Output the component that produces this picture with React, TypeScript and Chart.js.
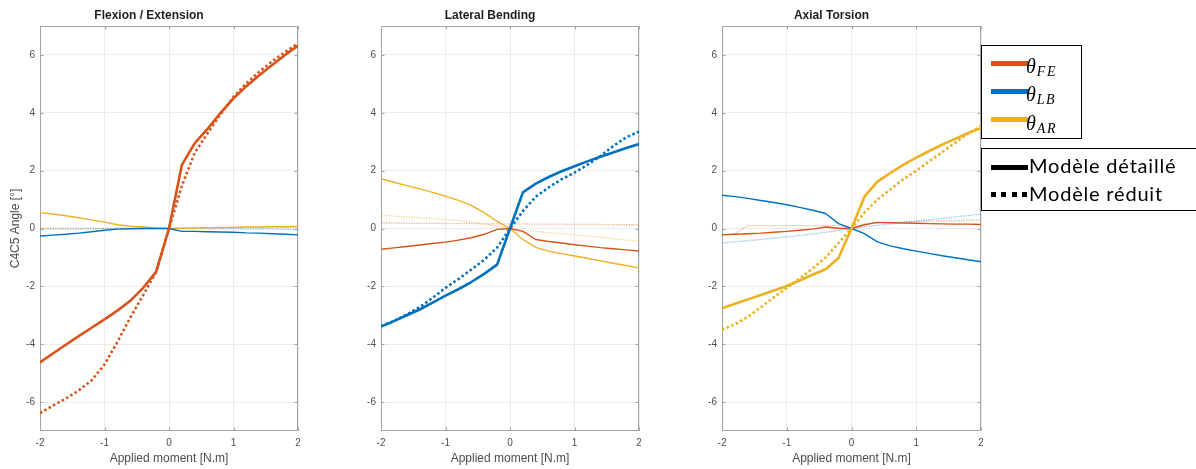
import React, { useEffect, useRef } from "react";
import { Chart, registerables } from "chart.js";

Chart.register(...registerables);

// ---------- data ----------
const X = [-2, -1.8, -1.6, -1.4, -1.2, -1, -0.8, -0.6, -0.4, -0.2, 0, 0.2, 0.4, 0.6, 0.8, 1, 1.2, 1.4, 1.6, 1.8, 2];
const xTicks = [-2, -1, 0, 1, 2];
const yTicks = [-6, -4, -2, 0, 2, 4, 6];

const panelTitles = ["Flexion / Extension", "Lateral Bending", "Axial Torsion"];
const xAxisTitle = "Applied moment [N.m]";
const yAxisTitle = "C4C5 Angle [°]";

// Panel 1 : Flexion / Extension
const feFEdet = [-4.63, -4.32, -4.02, -3.72, -3.43, -3.14, -2.84, -2.5, -2.05, -1.5, 0, 2.2, 2.95, 3.45, 4.0, 4.5, 4.92, 5.3, 5.65, 6.0, 6.32];
const feFEred = [-6.38, -6.12, -5.88, -5.6, -5.25, -4.7, -3.92, -3.08, -2.3, -1.5, 0, 1.48, 2.62, 3.3, 3.95, 4.55, 5.02, 5.42, 5.78, 6.1, 6.4];
const feLBdet = [-0.26, -0.23, -0.2, -0.16, -0.11, -0.06, -0.02, -0.01, 0, 0, 0, -0.1, -0.1, -0.11, -0.12, -0.13, -0.15, -0.16, -0.18, -0.2, -0.22];
const feARdet = [0.55, 0.5, 0.44, 0.37, 0.3, 0.22, 0.13, 0.08, 0.05, 0.02, 0, 0.01, 0.02, 0.03, 0.03, 0.04, 0.05, 0.05, 0.06, 0.06, 0.07];
const feLBred = [-0.01, -0.01, -0.01, -0.01, -0.01, 0, 0, 0, 0, 0, 0, 0, 0, -0.01, -0.01, -0.01, -0.01, -0.01, -0.02, -0.02, -0.02];
const feARred = [0.01, 0.01, 0.01, 0.01, 0.01, 0.01, 0.01, 0.01, 0.01, 0, 0, 0.01, 0.02, 0.02, 0.03, 0.03, 0.04, 0.04, 0.05, 0.05, 0.05];

// Panel 2 : Lateral Bending
const lbLBdet = [-3.39, -3.2, -3.0, -2.8, -2.56, -2.32, -2.1, -1.85, -1.57, -1.25, 0, 1.25, 1.55, 1.78, 1.98, 2.15, 2.32, 2.48, 2.63, 2.78, 2.92];
const lbLBred = [-3.37, -3.2, -2.97, -2.72, -2.4, -2.05, -1.75, -1.42, -1.08, -0.66, 0, 0.6, 1.1, 1.42, 1.7, 1.93, 2.2, 2.5, 2.85, 3.15, 3.35];
const lbFEdet = [-0.72, -0.67, -0.62, -0.57, -0.52, -0.47, -0.4, -0.32, -0.2, -0.03, 0, -0.1, -0.38, -0.45, -0.5, -0.56, -0.61, -0.66, -0.7, -0.74, -0.78];
const lbARdet = [1.72, 1.6, 1.48, 1.37, 1.25, 1.12, 0.97, 0.8, 0.55, 0.25, 0, -0.38, -0.65, -0.78, -0.87, -0.95, -1.03, -1.12, -1.2, -1.28, -1.36];
const lbFEred = [0.19, 0.19, 0.18, 0.18, 0.18, 0.17, 0.17, 0.17, 0.16, 0.16, 0.16, 0.16, 0.15, 0.15, 0.15, 0.14, 0.14, 0.14, 0.13, 0.13, 0.13];
const lbARred = [0.46, 0.43, 0.4, 0.37, 0.34, 0.31, 0.27, 0.22, 0.16, 0.08, 0, -0.06, -0.1, -0.14, -0.18, -0.22, -0.26, -0.3, -0.35, -0.4, -0.44];

// Panel 3 : Axial Torsion
const arARdet = [-2.76, -2.6, -2.45, -2.3, -2.14, -1.99, -1.8, -1.6, -1.41, -1.02, 0, 1.1, 1.62, 1.92, 2.2, 2.45, 2.68, 2.9, 3.1, 3.3, 3.47];
const arARred = [-3.5, -3.31, -3.05, -2.72, -2.38, -2.05, -1.73, -1.38, -1.0, -0.5, 0, 0.55, 1.0, 1.35, 1.7, 2.0, 2.32, 2.64, 2.96, 3.28, 3.55];
const arLBdet = [1.15, 1.1, 1.04, 0.97, 0.9, 0.82, 0.73, 0.63, 0.52, 0.17, 0, -0.18, -0.46, -0.6, -0.7, -0.78, -0.86, -0.94, -1.01, -1.08, -1.15];
const arFEdet = [-0.22, -0.2, -0.18, -0.16, -0.13, -0.1, -0.06, -0.02, 0.05, 0.01, 0, 0.13, 0.21, 0.2, 0.19, 0.18, 0.17, 0.16, 0.15, 0.15, 0.14];
const arLBred = [-0.5, -0.46, -0.42, -0.38, -0.33, -0.29, -0.24, -0.19, -0.13, -0.07, 0, 0.06, 0.11, 0.16, 0.21, 0.26, 0.3, 0.35, 0.4, 0.45, 0.5];
const arFEred = [-0.22, -0.18, 0.1, 0.1, 0.1, 0.1, 0.1, 0.1, 0.1, 0.1, 0, 0.15, 0.2, 0.21, 0.22, 0.24, 0.25, 0.26, 0.27, 0.28, 0.3];

// ---------- style ----------
const ORANGE = "#D95319";
const BLUE = "#0072BD";
const YELLOW = "#EDB120";
const FADE: Record<string, string> = {
  [ORANGE]: "rgba(217,83,25,0.4)",
  [BLUE]: "rgba(0,114,189,0.4)",
  [YELLOW]: "rgba(237,177,32,0.45)",
};
const FONT = "'Liberation Sans', Arial, sans-serif";

type Kind = "main" | "mainDot" | "thin" | "faint";

function ds(values: number[], color: string, kind: Kind) {
  const base: any = {
    data: values.map((v, i) => ({ x: X[i], y: v })),
    pointRadius: 0,
    tension: 0,
    fill: false,
    borderCapStyle: "butt",
    borderJoinStyle: "round",
  };
  if (kind === "main") return { ...base, borderColor: color, borderWidth: 2.6 };
  if (kind === "mainDot") return { ...base, borderColor: color, borderWidth: 2.6, borderDash: [2.5, 2.5] };
  if (kind === "thin") return { ...base, borderColor: color, borderWidth: 1.4 };
  return { ...base, borderColor: FADE[color], borderWidth: 1.3, borderDash: [1.5, 1] };
}

const panels = [
  {
    title: panelTitles[0],
    left: 0,
    width: 300,
    yTitle: true,
    datasets: [
      ds(feFEdet, ORANGE, "main"),
      ds(feFEred, ORANGE, "mainDot"),
      ds(feLBdet, BLUE, "thin"),
      ds(feARdet, YELLOW, "thin"),
      ds(feLBred, BLUE, "faint"),
      ds(feARred, YELLOW, "faint"),
    ],
  },
  {
    title: panelTitles[1],
    left: 341,
    width: 300,
    yTitle: false,
    datasets: [
      ds(lbLBdet, BLUE, "main"),
      ds(lbLBred, BLUE, "mainDot"),
      ds(lbFEdet, ORANGE, "thin"),
      ds(lbARdet, YELLOW, "thin"),
      ds(lbFEred, ORANGE, "faint"),
      ds(lbARred, YELLOW, "faint"),
    ],
  },
  {
    title: panelTitles[2],
    left: 682,
    width: 301,
    yTitle: false,
    datasets: [
      ds(arARdet, YELLOW, "main"),
      ds(arARred, YELLOW, "mainDot"),
      ds(arLBdet, BLUE, "thin"),
      ds(arFEdet, ORANGE, "thin"),
      ds(arLBred, BLUE, "faint"),
      ds(arFEred, ORANGE, "faint"),
    ],
  },
];

const framePlugin = {
  id: "matlabFrame",
  beforeDatasetsDraw(chart: any) {
    const { ctx, chartArea: a, scales } = chart;
    ctx.save();
    ctx.strokeStyle = "#a3a3a3";
    ctx.lineWidth = 1;
    const l = Math.round(a.left) + 0.5;
    const r = Math.round(a.right) - 0.5;
    const t = Math.round(a.top) + 0.5;
    const b = Math.round(a.bottom) - 0.5;
    ctx.strokeRect(l, t, r - l, b - t);
    ctx.beginPath();
    xTicks.forEach((v) => {
      const p = Math.round(scales.x.getPixelForValue(v)) + 0.5;
      ctx.moveTo(p, b);
      ctx.lineTo(p, b - 3);
      ctx.moveTo(p, t);
      ctx.lineTo(p, t + 3);
    });
    yTicks.forEach((v) => {
      const p = Math.round(scales.y.getPixelForValue(v)) + 0.5;
      ctx.moveTo(l, p);
      ctx.lineTo(l + 3, p);
      ctx.moveTo(r, p);
      ctx.lineTo(r - 3, p);
    });
    ctx.stroke();
    ctx.restore();
  },
};

function Panel(props: any) {
  const ref = useRef<HTMLCanvasElement | null>(null);
  const { title, datasets, yTitle, left, width } = props;
  useEffect(() => {
    if (!ref.current) return;
    const chart = new Chart(ref.current, {
      type: "line",
      data: { datasets },
      plugins: [framePlugin],
      options: {
        animation: false,
        responsive: false,
        devicePixelRatio: 1,
        layout: { padding: { left: 0, right: 2, top: 0, bottom: 0 } },
        plugins: {
          legend: { display: false },
          tooltip: { enabled: false },
          title: {
            display: true,
            text: title,
            color: "#1f1f1f",
            font: { family: FONT, size: 12, weight: "bold", lineHeight: "14px" } as any,
            padding: { top: 9, bottom: 3 },
          },
        },
        scales: {
          x: {
            type: "linear",
            min: -2,
            max: 2,
            afterBuildTicks: (s: any) => {
              s.ticks = xTicks.map((v) => ({ value: v }));
            },
            afterFit: (s: any) => {
              s.height = 38;
              s.paddingLeft = 0;
              s.paddingRight = 0;
            },
            grid: { color: "#ebebeb", drawTicks: false },
            border: { display: false },
            ticks: {
              color: "#4d4d4d",
              font: { family: FONT, size: 10 },
              padding: 6,
              maxRotation: 0,
              autoSkip: false,
              callback: (v: any) => String(v),
            },
            title: {
              display: true,
              text: xAxisTitle,
              color: "#4d4d4d",
              font: { family: FONT, size: 12 },
              padding: { top: 0, bottom: 3 },
            },
          },
          y: {
            type: "linear",
            min: -7,
            max: 7,
            afterBuildTicks: (s: any) => {
              s.ticks = yTicks.map((v) => ({ value: v }));
            },
            afterFit: (s: any) => {
              s.width = 40;
              s.paddingTop = 0;
              s.paddingBottom = 0;
            },
            grid: { color: "#ebebeb", drawTicks: false },
            border: { display: false },
            ticks: {
              color: "#4d4d4d",
              font: { family: FONT, size: 10 },
              padding: 5,
              autoSkip: false,
              callback: (v: any) => String(v),
            },
            title: {
              display: yTitle,
              text: yAxisTitle,
              color: "#4d4d4d",
              font: { family: FONT, size: 12 },
              padding: { top: 8, bottom: 0 },
            },
          },
        },
      } as any,
    });
    return () => chart.destroy();
  }, []);
  return (
    <div style={{ position: "absolute", left, top: 0, width, height: 469 }}>
      <canvas ref={ref} width={width} height={469} style={{ width, height: 469, display: "block" }} />
    </div>
  );
}

const legendSeries = [
  { sub: "FE", color: ORANGE, lineY: 63, top: 56 },
  { sub: "LB", color: BLUE, lineY: 91, top: 84 },
  { sub: "AR", color: YELLOW, lineY: 119, top: 112.5 },
];
const legendModels = [
  { label: "Modèle détaillé", dotted: false, lineY: 167, top: 155 },
  { label: "Modèle réduit", dotted: true, lineY: 194, top: 183 },
];

function Legend() {
  return (
    <>
      <div
        style={{
          position: "absolute",
          left: 981,
          top: 45,
          width: 101,
          height: 94,
          border: "1.5px solid #000",
          boxSizing: "border-box",
          background: "#fff",
        }}
      />
      <div
        style={{
          position: "absolute",
          left: 981,
          top: 148,
          width: 230,
          height: 63,
          border: "1.5px solid #000",
          boxSizing: "border-box",
          background: "#fff",
        }}
      />
      {legendSeries.map((s) => (
        <React.Fragment key={s.sub}>
          <div
            style={{
              position: "absolute",
              left: 991,
              top: s.lineY - 2.5,
              width: 37,
              height: 5,
              background: s.color,
            }}
          />
          <div
            style={{
              position: "absolute",
              left: 1026,
              top: s.top,
              fontFamily: "'Liberation Serif', 'Times New Roman', serif",
              fontStyle: "italic",
              fontSize: 20,
              lineHeight: "20px",
              color: "#000",
              whiteSpace: "nowrap",
            }}
          >
            θ
            <span style={{ fontSize: 14, position: "relative", top: 3, letterSpacing: 1.5, marginLeft: 1 }}>{s.sub}</span>
          </div>
        </React.Fragment>
      ))}
      {legendModels.map((m) => (
        <React.Fragment key={m.label}>
          <div
            style={{
              position: "absolute",
              left: 991,
              top: m.lineY - 2.5,
              width: 37,
              height: 5,
              background: m.dotted
                ? "repeating-linear-gradient(to right, #000 0px, #000 5px, transparent 5px, transparent 10.5px)"
                : "#000",
            }}
          />
          <div
            style={{
              position: "absolute",
              left: 1029,
              top: m.top,
              fontFamily: "Lato, 'Open Sans', sans-serif",
              fontSize: 20,
              lineHeight: "20px",
              letterSpacing: 0.8,
              color: "#000",
              whiteSpace: "nowrap",
            }}
          >
            {m.label}
          </div>
        </React.Fragment>
      ))}
    </>
  );
}

export default function App() {
  return (
    <div
      style={{
        position: "fixed",
        left: 0,
        top: 0,
        width: 1196,
        height: 469,
        background: "#fff",
        overflow: "hidden",
      }}
    >
      {panels.map((p) => (
        <Panel key={p.title} {...p} />
      ))}
      <Legend />
    </div>
  );
}
